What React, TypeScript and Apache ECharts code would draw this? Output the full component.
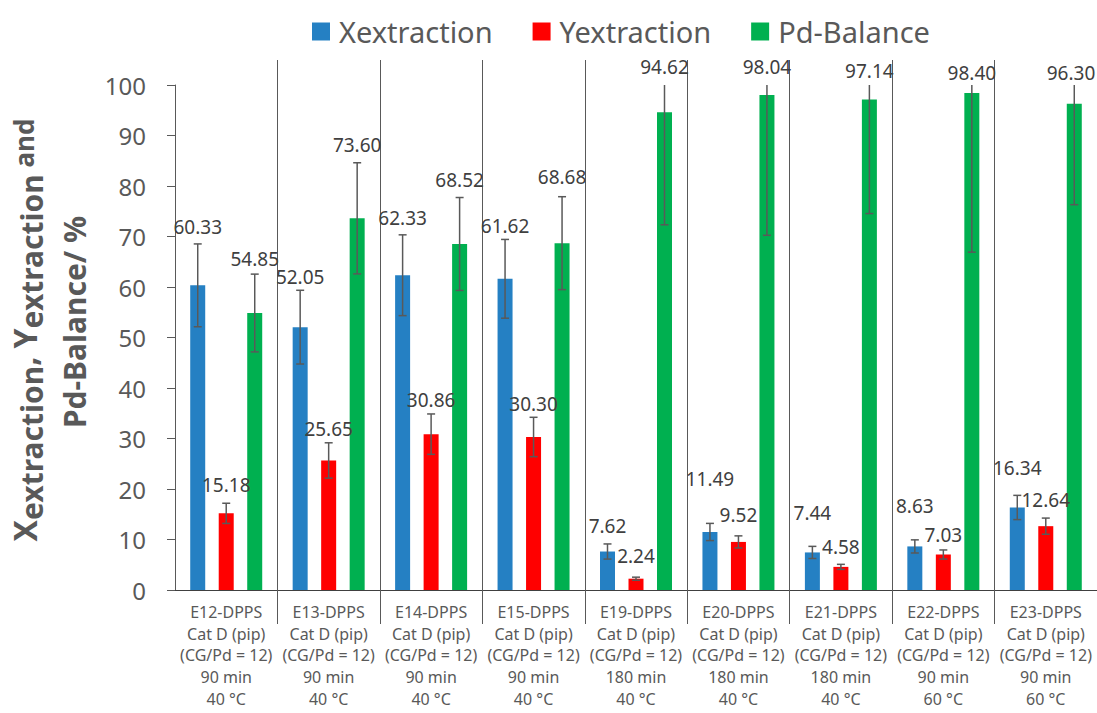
import React, { useEffect, useRef } from "react";
import * as echarts from "echarts";

const experiments = ["E12-DPPS", "E13-DPPS", "E14-DPPS", "E15-DPPS", "E19-DPPS", "E20-DPPS", "E21-DPPS", "E22-DPPS", "E23-DPPS"];
const catalysts = ["Cat D (pip)", "Cat D (pip)", "Cat D (pip)", "Cat D (pip)", "Cat D (pip)", "Cat D (pip)", "Cat D (pip)", "Cat D (pip)", "Cat D (pip)"];
const ratios = ["(CG/Pd = 12)", "(CG/Pd = 12)", "(CG/Pd = 12)", "(CG/Pd = 12)", "(CG/Pd = 12)", "(CG/Pd = 12)", "(CG/Pd = 12)", "(CG/Pd = 12)", "(CG/Pd = 12)"];
const times = ["90 min", "90 min", "90 min", "90 min", "180 min", "180 min", "180 min", "90 min", "90 min"];
const temps = ["40 °C", "40 °C", "40 °C", "40 °C", "40 °C", "40 °C", "40 °C", "60 °C", "60 °C"];

const xExtraction = [60.33, 52.05, 62.33, 61.62, 7.62, 11.49, 7.44, 8.63, 16.34];
const yExtraction = [15.18, 25.65, 30.86, 30.3, 2.24, 9.52, 4.58, 7.03, 12.64];
const pdBalance = [54.85, 73.6, 68.52, 68.68, 94.62, 98.04, 97.14, 98.4, 96.3];

const xError = [8.2, 7.3, 8.0, 7.8, 1.5, 1.7, 1.2, 1.3, 2.4];
const yError = [2.0, 3.5, 4.0, 3.9, 0.3, 1.2, 0.5, 0.9, 1.6];
const pdError = [7.7, 11.0, 9.2, 9.2, 22.3, 27.8, 22.6, 31.5, 20.0];

const yTicks = { min: 0, max: 100, interval: 10 };

// label placement above each error bar (style, in px)
const labelLiftX = [17, 13, 17, 13, 18, 44, 33, 34, 27];
const labelLiftY = [18, 14, 14, 13, 21, 21, 17, 15, 18];
const labelLiftPd = [15, 18, 18, 20, 18, 18, 14, 12, 12];

const FONT = '"Noto Sans", sans-serif';
const BAR_W = 15;
const BAR_GAP = 0.9;
const BAR_STEP = BAR_W * (1 + BAR_GAP);
const CAP = 4;

function errorSeries(name: string, values: number[], errs: number[], lifts: number[], slot: number) {
  return {
    type: "custom",
    name,
    z: 5,
    silent: true,
    data: values.map((v, i) => [i, v, errs[i]]),
    encode: { x: 0, y: 1 },
    renderItem: (params: any, api: any) => {
      const i = api.value(0);
      const v = api.value(1);
      const e = api.value(2);
      const base = api.coord([i, v]);
      const x = base[0] + slot * BAR_STEP;
      const hiV = Math.min(v + e, yTicks.max);
      const loV = Math.max(v - e, 0);
      const hi = api.coord([i, hiV])[1];
      const lo = api.coord([i, loV])[1];
      const st = { stroke: "#595959", lineWidth: 1.5 };
      const children: any[] = [
        { type: "line", shape: { x1: x, y1: hi, x2: x, y2: lo }, style: st },
        { type: "line", shape: { x1: x - CAP, y1: lo, x2: x + CAP, y2: lo }, style: st },
      ];
      if (v + e <= yTicks.max) {
        children.push({ type: "line", shape: { x1: x - CAP, y1: hi, x2: x + CAP, y2: hi }, style: st });
      }
      const text = v.toFixed(2);
      const halfW = text.length * 5;
      const lx = Math.min(x, api.getWidth() - halfW - 1);
      children.push({
        type: "text",
        x: lx,
        y: hi - lifts[params.dataIndex],
        style: {
          text,
          fill: "#404040",
          fontSize: 19,
          fontFamily: FONT,
          align: "center",
          verticalAlign: "middle",
        },
      });
      return { type: "group", children };
    },
  };
}

export default function App() {
  const ref = useRef<HTMLDivElement>(null);
  useEffect(() => {
    if (!ref.current) return;
    const chart = echarts.init(ref.current, null, { renderer: "svg" });
    const hideFirst = (index: number) => index !== 0;
    const option: any = {
      animation: false,
      backgroundColor: "#ffffff",
      legend: {
        data: ["Xextraction", "Yextraction", "Pd-Balance"],
        left: 307,
        top: 12,
        icon: "rect",
        itemWidth: 18,
        itemHeight: 18,
        itemGap: 40,
        textStyle: { fontSize: 29, color: "#595959", fontFamily: FONT, padding: [0, 0, 0, 4] },
      },
      grid: { left: 175, right: 0, top: 85, bottom: 123, containLabel: false },
      xAxis: [
        {
          type: "category",
          data: experiments,
          boundaryGap: true,
          axisLine: { show: true, lineStyle: { color: "#404040", width: 1 } },
          axisTick: { show: true, length: 34, interval: hideFirst, lineStyle: { color: "#595959" } },
          splitLine: { show: true, interval: hideFirst, lineStyle: { color: "#595959", width: 1 } },
          axisLabel: {
            interval: 0,
            margin: 11,
            color: "#595959",
            fontSize: 16,
            lineHeight: 21.7,
            fontFamily: FONT,
            formatter: (_v: string, i: number) =>
              `${experiments[i]}\n${catalysts[i]}\n${ratios[i]}\n${times[i]}\n${temps[i]}`,
          },
        },
        {
          type: "category",
          position: "top",
          data: experiments,
          boundaryGap: true,
          axisLine: { show: false },
          axisTick: { show: true, length: 25, interval: hideFirst, lineStyle: { color: "#595959" } },
          axisLabel: { show: false },
          splitLine: { show: false },
        },
      ],
      yAxis: {
        type: "value",
        min: yTicks.min,
        max: yTicks.max,
        interval: yTicks.interval,
        axisLine: { show: true, lineStyle: { color: "#595959", width: 1 } },
        axisTick: { show: true, length: 8, lineStyle: { color: "#595959" } },
        splitLine: { show: false },
        axisLabel: { color: "#595959", fontSize: 24, fontFamily: FONT, margin: 29 },
      },
      graphic: [
        {
          type: "text",
          x: 24,
          y: 330,
          rotation: Math.PI / 2,
          style: {
            text: "{b|X}{s|extraction}{b|, Y}{s|extraction}{a| and}",
            align: "center",
            verticalAlign: "middle",
            fill: "#595959",
            rich: {
              b: { fontSize: 32, fontWeight: "bold", fontFamily: FONT, fill: "#595959" },
              s: { fontSize: 30, fontWeight: "bold", fontFamily: FONT, fill: "#595959", padding: [15, 0, 0, 0] },
              a: { fontSize: 26, fontWeight: "bold", fontFamily: FONT, fill: "#595959" },
            },
          },
        },
        {
          type: "text",
          x: 74,
          y: 322,
          rotation: Math.PI / 2,
          style: {
            text: "Pd-Balance/ %",
            align: "center",
            verticalAlign: "middle",
            fill: "#595959",
            fontSize: 30,
            fontWeight: "bold",
            fontFamily: FONT,
          },
        },
      ],
      series: [
        { name: "Xextraction", type: "bar", data: xExtraction, barWidth: BAR_W, barGap: `${BAR_GAP * 100}%`, itemStyle: { color: "#2580C3" } },
        { name: "Yextraction", type: "bar", data: yExtraction, barWidth: BAR_W, barGap: `${BAR_GAP * 100}%`, itemStyle: { color: "#FF0000" } },
        { name: "Pd-Balance", type: "bar", data: pdBalance, barWidth: BAR_W, barGap: `${BAR_GAP * 100}%`, itemStyle: { color: "#00B050" } },
        errorSeries("errX", xExtraction, xError, labelLiftX, -1),
        errorSeries("errY", yExtraction, yError, labelLiftY, 0),
        errorSeries("errPd", pdBalance, pdError, labelLiftPd, 1),
      ],
    };
    chart.setOption(option);
    return () => chart.dispose();
  }, []);
  return (
    <div
      ref={ref}
      style={{ position: "fixed", left: 0, top: 0, width: 1097, height: 713 }}
    />
  );
}
